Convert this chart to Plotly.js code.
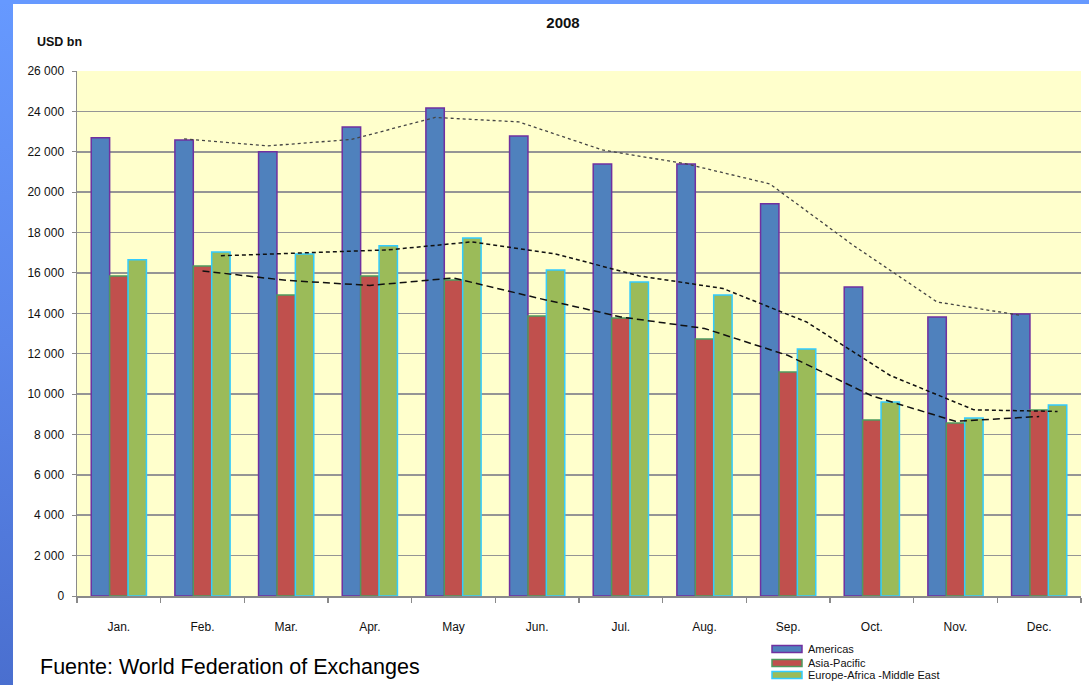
<!DOCTYPE html>
<html>
<head>
<meta charset="utf-8">
<script src="https://cdn.plot.ly/plotly-3.0.1.min.js"></script>
<style>
  html, body { margin: 0; padding: 0; background: #ffffff; }
  #wrap { position: relative; width: 1089px; height: 685px; overflow: hidden; background: #ffffff; }
  #leftbar { position: absolute; left: 0; top: 0; width: 13px; height: 685px;
             background: linear-gradient(to bottom, #6699FF 0%, #5A86EA 50%, #4A6FCF 100%); }
  #topbar { position: absolute; left: 0; top: 0; width: 1089px; height: 4px; background: #6699FF; }
  #chart { position: absolute; left: 0; top: 0; width: 1089px; height: 685px; }
</style>
</head>
<body>
<div id="wrap">
  <div id="leftbar"></div>
  <div id="topbar"></div>
  <div id="chart"></div>
</div>
<script>
// ---- data (USD bn, 2008) ----
const months = ["Jan.", "Feb.", "Mar.", "Apr.", "May", "Jun.", "Jul.", "Aug.", "Sep.", "Oct.", "Nov.", "Dec."];
const americas = [22700, 22580, 22000, 23230, 24170, 22780, 21400, 21400, 19420, 15300, 13820, 13970];
const asiaPacific = [15850, 16340, 14910, 15850, 15650, 13870, 13770, 12730, 11090, 8720, 8570, 9210];
const europeAME = [16650, 17040, 16940, 17340, 17730, 16150, 15550, 14910, 12230, 9610, 8820, 9460];
// trend lines (2-period moving average), Feb..Dec
const trendMonths = ["Feb.", "Mar.", "Apr.", "May", "Jun.", "Jul.", "Aug.", "Sep.", "Oct.", "Nov.", "Dec."];
const americasTrend = [22640, 22290, 22610, 23700, 23480, 22090, 21400, 20410, 17360, 14560, 13900];
const asiaTrend = [16100, 15630, 15380, 15750, 14760, 13820, 13250, 11910, 9910, 8650, 8890];
const europeTrend = [16850, 16990, 17140, 17540, 16940, 15850, 15230, 13570, 10920, 9220, 9140];
const yTicks = [0, 2000, 4000, 6000, 8000, 10000, 12000, 14000, 16000, 18000, 20000, 22000, 24000, 26000];

// ---- layout helpers ----
const FONT = "Liberation Sans, Arial, sans-serif";
const BW = 0.22;               // bar width in category units
const OFF = [-0.22, 0, 0.22];  // group offsets
const idx = m => months.indexOf(m);
const xs = (arr, o) => arr.map(m => idx(m) + o);

const PL = 77, PR = 1081, PT = 71, PB = 596;
const px = x => (x - PL) / (PR - PL);
const py = y => (PB - y) / (PB - PT);

const barTrace = (name, vals, o, fill, line) => ({
  type: "bar", name: name, x: xs(months, o), y: vals, width: BW,
  marker: { color: fill, line: { color: line, width: 1.5 } },
  hoverinfo: "x+y", showlegend: false
});
const lineTrace = (name, vals, o, dash, color, w) => ({
  type: "scatter", mode: "lines", name: name, x: xs(trendMonths, o), y: vals,
  line: { color: color, dash: dash, width: w }, showlegend: false, hoverinfo: "skip"
});

const data = [
  barTrace("Americas", americas, OFF[0], "#4F81BD", "#7030A0"),
  barTrace("Asia-Pacific", asiaPacific, OFF[1], "#C0504D", "#4E9A5E"),
  barTrace("Europe-Africa -Middle East", europeAME, OFF[2], "#9BBB59", "#33CCFF"),
  lineTrace("Americas trend", americasTrend, OFF[0], "dot", "#444444", 1.3),
  lineTrace("Asia-Pacific trend", asiaTrend, OFF[1], "7px,4px", "#111111", 1.5),
  lineTrace("Europe trend", europeTrend, OFF[2], "4px,3px", "#111111", 1.5)
];

// custom legend (rectangles + labels)
const legendItems = [
  { name: "Americas", fill: "#4F81BD", line: "#7030A0", y: 649 },
  { name: "Asia-Pacific", fill: "#C0504D", line: "#4E9A5E", y: 663 },
  { name: "Europe-Africa -Middle East", fill: "#9BBB59", line: "#33CCFF", y: 675 }
];
const shapes = legendItems.map(it => ({
  type: "rect", xref: "paper", yref: "paper",
  x0: px(772), x1: px(802), y0: py(it.y - 3.5), y1: py(it.y + 3.5),
  fillcolor: it.fill, line: { color: it.line, width: 1.5 }
}));
const annotations = legendItems.map(it => ({
  xref: "paper", yref: "paper", x: px(806), y: py(it.y), xanchor: "left", yanchor: "middle",
  text: it.name, showarrow: false, font: { family: FONT, size: 11, color: "#111" }
}));
annotations.push({
  xref: "paper", yref: "paper", x: px(35), y: py(42), xanchor: "left", yanchor: "middle",
  text: "<b>USD bn</b>", showarrow: false, font: { family: FONT, size: 12.5, color: "#111" }
});
annotations.push({
  xref: "paper", yref: "paper", x: px(38), y: py(667), xanchor: "left", yanchor: "middle",
  text: "Fuente: World Federation of Exchanges", showarrow: false,
  font: { family: FONT, size: 21.5, color: "#000" }
});

const layout = {
  width: 1089, height: 685,
  margin: { l: PL, r: 1089 - PR, t: PT, b: 685 - PB, pad: 0 },
  paper_bgcolor: "rgba(0,0,0,0)",
  plot_bgcolor: "#FFFFCC",
  separators: ". ",
  font: { family: FONT, size: 12, color: "#111" },
  title: { text: "<b>2008</b>", xref: "container", x: 563 / 1089, xanchor: "center",
           yref: "container", y: 1 - 23 / 685, yanchor: "middle",
           font: { family: FONT, size: 15, color: "#111" } },
  barmode: "overlay",
  xaxis: {
    range: [-0.5, 11.5], showgrid: false, zeroline: false,
    tickmode: "array", tickvals: months.map((m, i) => i), ticktext: months,
    ticks: "", ticklabelstandoff: 19,
    showline: true, linecolor: "#8a8a8a", linewidth: 1.5,
    tickfont: { family: FONT, size: 12, color: "#111" },
    minor: { tickmode: "array", tickvals: months.map((m, i) => i - 0.5).concat([11.5]),
             ticks: "outside", ticklen: 5, tickcolor: "#8a8a8a", tickwidth: 1.2, showgrid: false }
  },
  yaxis: {
    range: [0, 26000], tickmode: "array", tickvals: yTicks, tickformat: ",d",
    showgrid: true, gridcolor: "#959595", gridwidth: 1.5, zeroline: false,
    showline: true, linecolor: "#8a8a8a", linewidth: 1.5,
    ticks: "outside", ticklen: 4, tickcolor: "#8a8a8a", ticklabelstandoff: 5,
    tickfont: { family: FONT, size: 12, color: "#111" }
  },
  shapes: shapes,
  annotations: annotations,
  showlegend: false
};

Plotly.newPlot("chart", data, layout, { displayModeBar: false, staticPlot: true });
</script>
</body>
</html>
